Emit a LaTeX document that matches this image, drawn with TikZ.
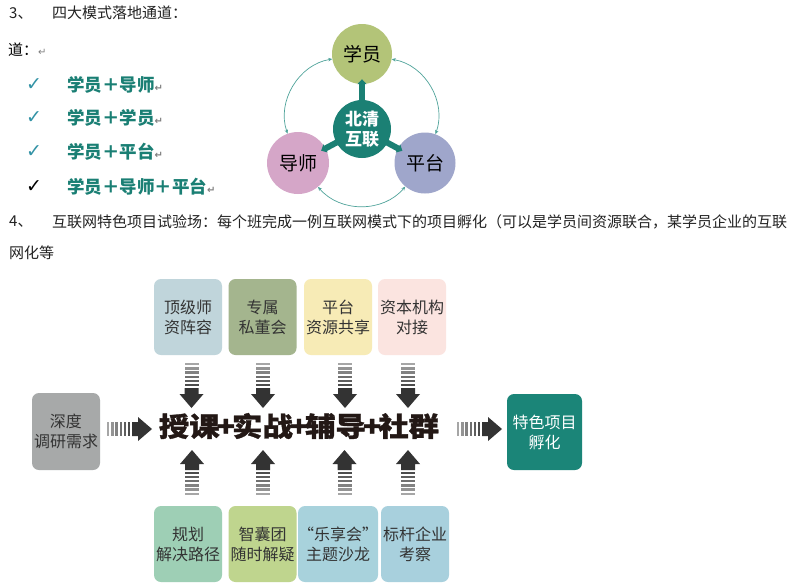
\documentclass[tikz,border=0pt]{standalone}
\usepackage{fontspec}
\setmainfont{Noto Sans CJK SC}
\newfontfamily\sym{DejaVu Sans}
\newfontfamily\heavy{Noto Sans CJK SC}[FakeBold=1.2]
\usepackage{graphicx}
\usetikzlibrary{arrows.meta,calc}
\definecolor{txt}{HTML}{222222}
\definecolor{tealc}{HTML}{1B8074}
\definecolor{listteal}{HTML}{1A7F74}
\definecolor{chk}{HTML}{3393A6}
\definecolor{cxy}{HTML}{B3C478}
\definecolor{cds}{HTML}{D5A6C8}
\definecolor{cpt}{HTML}{9FA6CB}
\definecolor{arcc}{HTML}{4FA39A}
\definecolor{bA}{HTML}{C0D5DB}
\definecolor{bB}{HTML}{A4B58E}
\definecolor{bC}{HTML}{F7EBB6}
\definecolor{bD}{HTML}{FBE4E0}
\definecolor{dA}{HTML}{9ECFB5}
\definecolor{dB}{HTML}{BFD58E}
\definecolor{dC}{HTML}{A8D2DC}
\definecolor{dD}{HTML}{A8D0DD}
\definecolor{lbox}{HTML}{A7A9A9}
\definecolor{rbox}{HTML}{1B8578}
\definecolor{boxtext}{HTML}{333333}
\definecolor{arrowc}{HTML}{333333}
\definecolor{heavyc}{HTML}{231815}
\newcommand{\retmark}{{\sym\color{gray}\fontsize{10}{10}\selectfont ↵}}
\tikzset{
  plain/.style={anchor=west, inner sep=0pt, text=txt, font=\fontsize{15}{18}\selectfont},
  chkmark/.style={inner sep=0pt, font=\sym\fontsize{19}{19}\selectfont},
  listtext/.style={anchor=west, inner sep=0pt, text=listteal, font=\bfseries\fontsize{17.5}{20}\selectfont},
  ring/.style={circle, inner sep=0pt, font=\fontsize{19}{22}\selectfont, text=black},
  bar/.style={draw=tealc, line width=6pt, -{Triangle[length=5pt,width=9pt]}, shorten >=-5pt},
  arcline/.style={draw=arcc, line width=0.7pt, {Stealth[length=4pt,width=3.5pt]}-{Stealth[length=4pt,width=3.5pt]}},
  card/.style={rounded corners=7pt, minimum width=68pt, minimum height=76pt, inner sep=0pt,
    text=boxtext, align=center, font=\fontsize{16}{20}\selectfont},
  blockarrow/.pic={
    \foreach \i/\c in {0/35,1/42,2/49,3/56,4/63,5/70}{
      \fill[black!\c] (\i*4.2,-7) rectangle ++(2.4,14);
    }
    \fill[arrowc] (25,-7) -- (31,-7) -- (31,-12) -- (45,0) -- (31,12) -- (31,7) -- (25,7) -- cycle;
  }
}
\begin{document}
\begin{tikzpicture}[x=1pt,y=-1pt]
\useasboundingbox (0,0) rectangle (789,587);
\fill[white] (0,0) rectangle (789,587);

% Section 3 header
\node[plain] (n3) at (9,13) {3、};
\node[plain] (t3) at (52,13) {四大模式落地通道：};
\node[plain, text=black] (dao) at (8,50) {道：\retmark};

% check list
\node[chkmark, text=chk] (c1) at (34,85) {✓};
\node[chkmark, text=chk] (c2) at (34,118) {✓};
\node[chkmark, text=chk] (c3) at (34,152) {✓};
\node[chkmark, text=black] (c4) at (34,187) {✓};
\node[listtext] (l1) at (67,85) {学员＋导师\retmark};
\node[listtext] (l2) at (67,118) {学员＋学员\retmark};
\node[listtext] (l3) at (67,152) {学员＋平台\retmark};
\node[listtext] (l4) at (67,187) {学员＋导师＋平台\retmark};

% circle diagram
\node[ring, fill=cxy, minimum size=60pt] (xy) at (362,54) {学员};
\node[ring, fill=cds, minimum size=62pt] (ds) at (298,163) {导师};
\node[ring, fill=cpt, minimum size=61pt] (pt) at (425,163) {平台};
\draw[bar] (362,129) -- (xy);
\draw[bar] (362,129) -- (ds);
\draw[bar] (362,129) -- (pt);
\node[circle, fill=tealc, minimum size=58pt, inner sep=0pt, text=white, align=center,
  font=\bfseries\fontsize{17}{20}\selectfont] (bq) at (362,129) {北清\\互联};
\draw[arcline] (xy) to[bend right=50] (ds);
\draw[arcline] (ds) to[bend right=50] (pt);
\draw[arcline] (pt) to[bend right=50] (xy);

% Section 4 header
\node[plain] (n4) at (9,222) {4、};
\node[plain] (t4) at (52,222) {互联网特色项目试验场：每个班完成一例互联网模式下的项目孵化（可以是学员间资源联合，某学员企业的互联};
\node[plain] (t4b) at (9,253) {网化等};

% top cards
\node[card, fill=bA] (tA) at (188,317) {顶级师\\资阵容};
\node[card, fill=bB] (tB) at (262.5,317) {专属\\私董会};
\node[card, fill=bC] (tC) at (338,317) {平台\\资源共享};
\node[card, fill=bD] (tD) at (412,317) {资本机构\\对接};

% bottom cards
\node[card, fill=dA] (uA) at (188,544) {规划\\解决路径};
\node[card, fill=dB] (uB) at (262.5,544) {智囊团\\随时解疑};
\node[card, fill=dC] (uC) at (338,544) {“乐享会”\\主题沙龙};
\node[card, fill=dD] (uD) at (415,544) {标杆企业\\考察};

% side cards
\node[card, fill=lbox, minimum height=77pt] (lft) at (66,431.5) {深度\\调研需求};
\node[card, fill=rbox, minimum width=75pt, text=white] (rgt) at (544.5,432) {特色项目\\孵化};

% central heavy text
\node[inner sep=0pt, text=heavyc] (core) at (299,426)
  {\resizebox*{280pt}{26pt}{\heavy\bfseries 授课\kern-0.1em+\kern-0.1em实战\kern-0.1em+\kern-0.1em辅导\kern-0.1em+\kern-0.1em社群}};

% block arrows
\foreach \x in {191.5,263,345,408}{
  \pic[rotate=-90] at (\x,363) {blockarrow};
}
\foreach \x in {192,263,344.5,408}{
  \pic[rotate=90] at (\x,495) {blockarrow};
}
\pic at (107,429) {blockarrow};
\pic at (457,429) {blockarrow};
\end{tikzpicture}
\end{document}
